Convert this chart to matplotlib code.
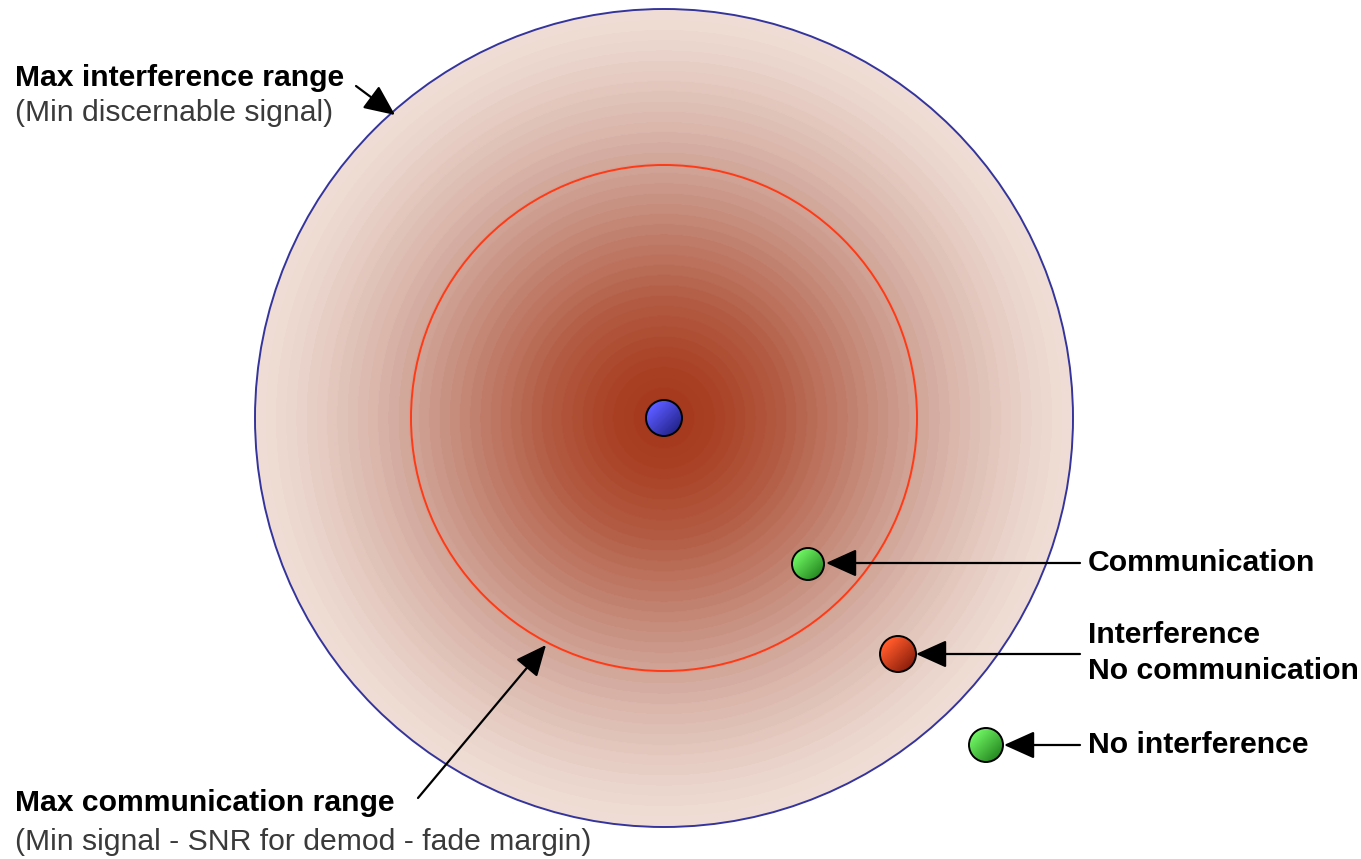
import numpy as np
import matplotlib.pyplot as plt
from matplotlib.colors import LinearSegmentedColormap, to_rgb
from matplotlib.patches import Circle

# geometry (pixel units, y down)
center = (664, 418)
outer_r = 409
inner_r = 253

# radial shade stops: fraction of outer radius -> colour
shade_pos = [0.0, 0.12, 0.28, 0.42, 0.56, 0.68, 0.8, 0.9, 1.0]
shade_col = ["#a4361a", "#aa4226", "#b35c44", "#bf7b68", "#cc9a8c",
             "#d8b3a8", "#e3c7bd", "#ebd6cd", "#f1e0d8"]

# nodes: x, y, radius, light colour, dark colour
node_x = [664, 808, 898, 986]
node_y = [418, 564, 654, 745]
node_r = [18, 16, 18, 17]
node_light = ["#5a5aff", "#6cf060", "#ff5a2a", "#6cf060"]
node_dark = ["#1c1c7a", "#1c7a18", "#7a1608", "#1c7a18"]

# right side labels (one entry per text line)
right_lines = ["Communication", "Interference", "No communication", "No interference"]
right_line_y = [563, 635, 671, 745]
arrow_y = [563, 654, 745]
arrow_tip_x = [826, 916, 1004]

fig = plt.figure(figsize=(13.61, 8.59), dpi=100)
ax = fig.add_axes([0, 0, 1, 1])
ax.set_xlim(0, 1361)
ax.set_ylim(859, 0)
ax.set_aspect("equal")
ax.axis("off")

# banded radial gradient inside the outer circle
cmap = LinearSegmentedColormap.from_list("shade", list(zip(shade_pos, shade_col)))
xs = np.arange(center[0] - outer_r, center[0] + outer_r + 1)
ys = np.arange(center[1] - outer_r, center[1] + outer_r + 1)
X, Y = np.meshgrid(xs, ys)
R = np.hypot(X - center[0], Y - center[1]) / outer_r
R = np.floor(R * 40) / 40
img = ax.imshow(cmap(np.clip(R, 0, 1)),
                extent=(xs[0], xs[-1], ys[-1], ys[0]),
                interpolation="bilinear", zorder=1)
img.set_clip_path(Circle(center, outer_r, transform=ax.transData))

ax.add_patch(Circle(center, outer_r, fill=False, ec="#34349c", lw=1.4, zorder=3))
ax.add_patch(Circle(center, inner_r, fill=False, ec="#ff3a14", lw=1.4, zorder=3))

# shaded balls: light top-left to dark bottom-right
for x, y, r, cl, cd in zip(node_x, node_y, node_r, node_light, node_dark):
    g = np.linspace(-1, 1, 60)
    GX, GY = np.meshgrid(g, g)
    t = np.clip((GX + GY + 1.2) / 3.0, 0, 1)[..., None]
    rgb = (1 - t) * np.array(to_rgb(cl)) + t * np.array(to_rgb(cd))
    im = ax.imshow(rgb, extent=(x - r, x + r, y + r, y - r),
                   interpolation="bilinear", zorder=5)
    im.set_clip_path(Circle((x, y), r, transform=ax.transData))
    ax.add_patch(Circle((x, y), r, fill=False, ec="black", lw=1.4, zorder=6))

arrow = dict(arrowstyle="-|>,head_length=1.0,head_width=0.45", color="black",
             lw=1.6, mutation_scale=19, shrinkA=0, shrinkB=0)

for y, tx in zip(arrow_y, arrow_tip_x):
    ax.annotate("", xy=(tx, y), xytext=(1080, y), arrowprops=arrow, zorder=7)

font = dict(fontsize=21.7, family="Liberation Sans", va="center", ha="left")

for lab, y in zip(right_lines, right_line_y):
    ax.text(1088, y, lab, fontweight="bold", **font)

ax.text(15, 78, "Max interference range", fontweight="bold", **font)
ax.text(15, 113, "(Min discernable signal)", color="#3a3a3a", **font)
ax.annotate("", xy=(395, 115), xytext=(356, 86), arrowprops=arrow)

ax.text(15, 803, "Max communication range", fontweight="bold", **font)
ax.text(15, 842, "(Min signal - SNR for demod - fade margin)",
        color="#3a3a3a", **font)
ax.annotate("", xy=(546, 645), xytext=(418, 798), arrowprops=arrow)

fig.savefig("out.png", dpi=100, facecolor="white")
